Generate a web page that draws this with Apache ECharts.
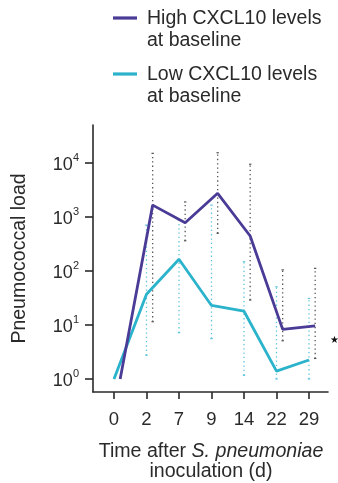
<!DOCTYPE html>
<html>
<head>
<meta charset="utf-8">
<script src="https://cdn.jsdelivr.net/npm/echarts@6/dist/echarts.min.js"></script>
<style>
  html, body { margin: 0; padding: 0; background: #ffffff; }
  #chart { width: 338px; height: 483px; }
</style>
</head>
<body>
<div id="chart"></div>
<script>
// Days after inoculation (category labels on the x axis)
const days = ['0', '2', '7', '9', '14', '22', '29'];

// Pneumococcal load, group with high baseline CXCL10
const highMean = [1, 1660, 780, 2750, 445, 8.3, 9.6];
const highLow  = [null, 11.5, 363, 500, 29, 5.1, 2.4];
const highHigh = [null, 15100, 1900, 15500, 9500, 105, 112];

// Pneumococcal load, group with low baseline CXCL10
const lowMean = [1, 37, 165, 23, 18, 1.4, 2.25];
const lowLow  = [null, 2.75, 7.2, 5.6, 1.17, 1.0, 1.0];
const lowHigh = [null, 708, 870, 1660, 148, 51, 31];

// Decade ticks of the log axis
const yTicks = [1, 10, 100, 1000, 10000];

const PURPLE = '#4a3b96';
const CYAN = '#2ab3cb';
const TEXT = '#2a2a2a';
const FONT = 'Liberation Sans, Arial, sans-serif';
// the high group is nudged right so both groups stay readable
const HIGH_SHIFT = 0.19;

const idx = days.map((d, i) => i);
const lineData = (vals, shift) => vals.map((v, i) => [i + shift, v]);
const barData = (lo, hi, shift) =>
  lo.map((l, i) => (l == null ? null : [i + shift, l, hi[i]])).filter(Boolean);

function errorBars(color) {
  return function (params, api) {
    const x = api.value(0);
    const p1 = api.coord([x, api.value(1)]);
    const p2 = api.coord([x, api.value(2)]);
    return {
      type: 'group',
      children: [
        {
          type: 'line',
          shape: { x1: p1[0], y1: p1[1], x2: p2[0], y2: p2[1] },
          style: { stroke: color, lineWidth: 1.3, lineDash: [1.3, 3] }
        },
        {
          type: 'line',
          shape: { x1: p2[0] - 1.2, y1: p2[1], x2: p2[0] + 1.2, y2: p2[1] },
          style: { stroke: color, lineWidth: 1.2 }
        },
        {
          type: 'line',
          shape: { x1: p1[0] - 1.2, y1: p1[1], x2: p1[0] + 1.2, y2: p1[1] },
          style: { stroke: color, lineWidth: 1.2 }
        }
      ]
    };
  };
}

const chart = echarts.init(document.getElementById('chart'), null, { renderer: 'canvas' });

chart.setOption({
  backgroundColor: '#ffffff',
  animation: false,
  textStyle: { fontFamily: FONT },
  grid: { left: 93, right: 10, top: 125, bottom: 91, containLabel: false, outerBoundsMode: 'none' },
  xAxis: {
    type: 'value',
    min: -0.646,
    max: 6.585,
    splitLine: { show: false },
    axisLine: { show: true, onZero: false, lineStyle: { color: TEXT, width: 1.6 } },
    axisTick: { show: true, length: 7, customValues: idx, lineStyle: { color: TEXT, width: 1.6 } },
    axisLabel: {
      customValues: idx,
      formatter: (v) => days[Math.round(v)],
      color: TEXT, fontSize: 18.5, margin: 18, fontFamily: FONT
    }
  },
  yAxis: {
    type: 'log',
    logBase: 10,
    min: 0.574,
    max: 50600,
    splitLine: { show: false },
    axisLine: { show: true, onZero: false, lineStyle: { color: TEXT, width: 1.6 } },
    axisTick: { show: true, length: 8, customValues: yTicks, lineStyle: { color: TEXT, width: 1.6 } },
    axisLabel: {
      customValues: yTicks,
      margin: 14,
      formatter: (v) => '{b|10}{s|' + Math.round(Math.log10(v)) + '}',
      rich: {
        b: { fontSize: 18, color: TEXT, fontFamily: FONT, verticalAlign: 'bottom', lineHeight: 22 },
        s: { fontSize: 11, color: TEXT, fontFamily: FONT, verticalAlign: 'top', lineHeight: 22, padding: [0, 0, 6, 0] }
      }
    },
    name: 'Pneumococcal load',
    nameLocation: 'middle',
    nameGap: 63,
    nameTextStyle: { fontSize: 19.5, color: TEXT, fontFamily: FONT }
  },
  series: [
    {
      name: 'High error',
      type: 'custom',
      renderItem: errorBars('#555555'),
      data: barData(highLow, highHigh, HIGH_SHIFT),
      z: 1
    },
    {
      name: 'Low error',
      type: 'custom',
      renderItem: errorBars('#5cc3dc'),
      data: barData(lowLow, lowHigh, 0),
      z: 1
    },
    {
      name: 'Low CXCL10 levels at baseline',
      type: 'line',
      data: lineData(lowMean, 0),
      showSymbol: false,
      lineStyle: { color: CYAN, width: 2.8 },
      z: 3
    },
    {
      name: 'High CXCL10 levels at baseline',
      type: 'line',
      data: lineData(highMean, HIGH_SHIFT),
      showSymbol: false,
      lineStyle: { color: PURPLE, width: 2.8 },
      z: 4
    }
  ],
  graphic: [
    // legend
    { type: 'line', shape: { x1: 113, y1: 18, x2: 137, y2: 18 }, style: { stroke: PURPLE, lineWidth: 3.2 } },
    { type: 'text', x: 147, y: 19, style: { text: 'High CXCL10 levels', fill: TEXT, font: '19.5px ' + FONT, verticalAlign: 'middle' } },
    { type: 'text', x: 147, y: 41, style: { text: 'at baseline', fill: TEXT, font: '19.5px ' + FONT, verticalAlign: 'middle' } },
    { type: 'line', shape: { x1: 113, y1: 74, x2: 137, y2: 74 }, style: { stroke: CYAN, lineWidth: 3.2 } },
    { type: 'text', x: 147, y: 75, style: { text: 'Low CXCL10 levels', fill: TEXT, font: '19.5px ' + FONT, verticalAlign: 'middle' } },
    { type: 'text', x: 147, y: 97, style: { text: 'at baseline', fill: TEXT, font: '19.5px ' + FONT, verticalAlign: 'middle' } },
    // x axis title
    {
      type: 'text', x: 211, y: 452,
      style: {
        text: '{n|Time after }{i|S. pneumoniae}',
        align: 'center', verticalAlign: 'middle',
        rich: {
          n: { fontSize: 19.6, fill: TEXT, fontFamily: FONT },
          i: { fontSize: 19.6, fill: TEXT, fontFamily: FONT, fontStyle: 'italic' }
        }
      }
    },
    { type: 'text', x: 211, y: 472, style: { text: 'inoculation (d)', fill: TEXT, font: '19.6px ' + FONT, align: 'center', verticalAlign: 'middle' } },
    // significance marker
    { type: 'text', x: 330, y: 335, style: { text: '★', fill: '#111111', font: '10px DejaVu Sans' } }
  ]
});
</script>
</body>
</html>
